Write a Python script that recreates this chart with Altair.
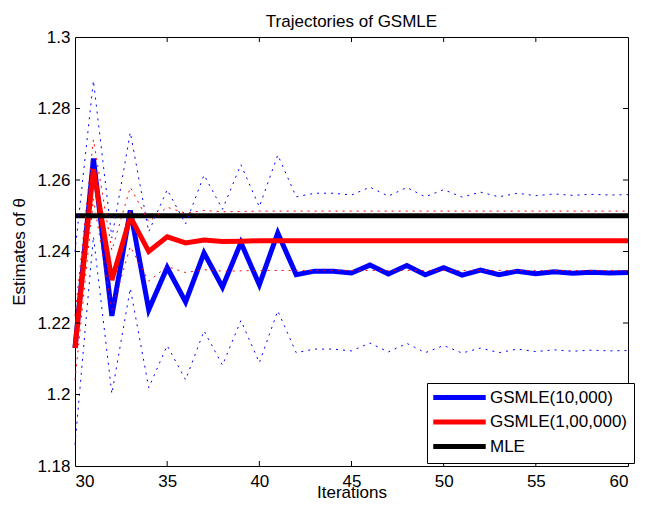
import altair as alt
import pandas as pd

iters = list(range(30, 61))

blue_mean = [1.213, 1.266, 1.222, 1.2515, 1.2237, 1.2355, 1.2259, 1.2396, 1.2300, 1.2425,
             1.2307, 1.2452, 1.2335, 1.2345, 1.2345, 1.2340, 1.2362, 1.2337, 1.2361, 1.2335,
             1.2355, 1.2334, 1.2348, 1.2335, 1.2345, 1.2338, 1.2343, 1.2339, 1.2342, 1.2340, 1.2341]
blue_upper = [1.240, 1.2878, 1.2438, 1.2733, 1.2455, 1.2573, 1.2477, 1.2614, 1.2518, 1.2643,
              1.2525, 1.2670, 1.2553, 1.2563, 1.2563, 1.2558, 1.2580, 1.2555, 1.2579, 1.2553,
              1.2573, 1.2552, 1.2566, 1.2553, 1.2563, 1.2556, 1.2561, 1.2557, 1.2560, 1.2558, 1.2559]
blue_lower = [1.186, 1.2442, 1.2002, 1.2297, 1.2019, 1.2137, 1.2041, 1.2178, 1.2082, 1.2207,
              1.2089, 1.2234, 1.2117, 1.2127, 1.2127, 1.2122, 1.2144, 1.2119, 1.2143, 1.2117,
              1.2137, 1.2116, 1.2130, 1.2117, 1.2127, 1.2120, 1.2125, 1.2121, 1.2124, 1.2122, 1.2123]

red_mean = [1.213, 1.263, 1.232, 1.2497, 1.2400, 1.2441, 1.2424, 1.2432, 1.2428, 1.2429,
            1.2430, 1.2430, 1.2430, 1.2430, 1.2430, 1.2430, 1.2430, 1.2430, 1.2430, 1.2430,
            1.2430, 1.2430, 1.2430, 1.2430, 1.2430, 1.2430, 1.2430, 1.2430, 1.2430, 1.2430, 1.2430]
red_upper = [1.222, 1.2713, 1.2403, 1.2580, 1.2483, 1.2524, 1.2507, 1.2515, 1.2511, 1.2512,
             1.2513, 1.2513, 1.2513, 1.2513, 1.2513, 1.2513, 1.2513, 1.2513, 1.2513, 1.2513,
             1.2513, 1.2513, 1.2513, 1.2513, 1.2513, 1.2513, 1.2513, 1.2513, 1.2513, 1.2513, 1.2513]
red_lower = [1.204, 1.2547, 1.2237, 1.2414, 1.2317, 1.2358, 1.2341, 1.2349, 1.2345, 1.2346,
             1.2347, 1.2347, 1.2347, 1.2347, 1.2347, 1.2347, 1.2347, 1.2347, 1.2347, 1.2347,
             1.2347, 1.2347, 1.2347, 1.2347, 1.2347, 1.2347, 1.2347, 1.2347, 1.2347, 1.2347, 1.2347]

mle_iters = [30, 60]
mle_value = [1.25, 1.25]

series_names = ["GSMLE(10,000)", "GSMLE(1,00,000)", "MLE"]
series_colors = ["#0000ff", "#ff0000", "#000000"]

x_ticks = [30, 35, 40, 45, 50, 55, 60]
y_ticks = [1.18, 1.2, 1.22, 1.24, 1.26, 1.28, 1.3]
x_inner_ticks = [35, 40, 45, 50, 55]
y_inner_ticks = [1.2, 1.22, 1.24, 1.26, 1.28]

W, H = 553, 429
FONT = "Liberation Sans"

thick = pd.DataFrame({
    "iter": iters + iters + mle_iters,
    "est": blue_mean + red_mean + mle_value,
    "series": [series_names[0]] * len(iters) + [series_names[1]] * len(iters) + [series_names[2]] * 2,
})
bands = pd.DataFrame({
    "iter": iters * 4,
    "est": blue_upper + blue_lower + red_upper + red_lower,
    "band": ["blue_upper"] * 31 + ["blue_lower"] * 31 + ["red_upper"] * 31 + ["red_lower"] * 31,
})
xt = pd.DataFrame({"iter": x_inner_ticks})
yt = pd.DataFrame({"est": y_inner_ticks})

X = alt.X("iter:Q", scale=alt.Scale(domain=[30, 60], nice=False, zero=False),
          axis=alt.Axis(values=x_ticks, title="Iterations", labelPadding=7, titlePadding=8,
                        titleBaseline="alphabetic", format="d"))
Y = alt.Y("est:Q", scale=alt.Scale(domain=[1.18, 1.3], nice=False, zero=False),
          axis=alt.Axis(values=y_ticks, title="Estimates of θ", format=".2~f",
                        labelPadding=5, titlePadding=8))

color = alt.Color("series:N", scale=alt.Scale(domain=series_names, range=series_colors),
                  legend=alt.Legend(title=None, orient="none", legendX=352, legendY=346,
                                    direction="vertical", symbolType="M-5,0H5", symbolSize=110,
                                    symbolStrokeWidth=5, symbolOffset=18, labelFontSize=17,
                                    labelFont=FONT, labelColor="black", strokeColor="black",
                                    fillColor="white", padding=6, rowPadding=3.5, labelOffset=22))

def thick_layer(name):
    return alt.Chart(thick).transform_filter(alt.datum.series == name).mark_line(
        strokeWidth=5).encode(x=X, y=Y, color=color)

def band_layer(prefix, col):
    return alt.Chart(bands).transform_filter(
        f"indexof(datum.band, '{prefix}') == 0").mark_line(
        strokeWidth=1, strokeDash=[2, 5], color=col).encode(x=X, y=Y, detail="band:N")

ticks_bottom = alt.Chart(xt).mark_rule(color="black").encode(x=X, y=alt.value(H), y2=alt.value(H - 5))
ticks_top = alt.Chart(xt).mark_rule(color="black").encode(x=X, y=alt.value(0), y2=alt.value(5))
ticks_left = alt.Chart(yt).mark_rule(color="black").encode(y=Y, x=alt.value(0), x2=alt.value(5))
ticks_right = alt.Chart(yt).mark_rule(color="black").encode(y=Y, x=alt.value(W), x2=alt.value(W - 5))

chart = alt.layer(
    thick_layer(series_names[0]),
    thick_layer(series_names[1]),
    thick_layer(series_names[2]),
    band_layer("blue", "#0000ff"),
    band_layer("red", "#ff0000"),
    ticks_bottom, ticks_top, ticks_left, ticks_right,
).properties(
    width=W, height=H,
    title=alt.TitleParams("Trajectories of GSMLE", fontSize=17, fontWeight="normal", font=FONT,
                          color="black", anchor="middle", baseline="alphabetic", offset=3, dy=19),
    autosize=alt.AutoSizeParams(type="none"),
    padding={"left": 67, "top": 29, "right": 10, "bottom": 36},
).configure_view(
    stroke="black", strokeWidth=1
).configure_axis(
    domain=False, ticks=False, tickSize=0, grid=False,
    labelFont=FONT, labelFontSize=17, labelColor="black",
    titleFont=FONT, titleFontSize=17, titleFontWeight="normal", titleColor="black",
)

chart.save("out.html", embed_options={"renderer": "svg", "actions": False})
